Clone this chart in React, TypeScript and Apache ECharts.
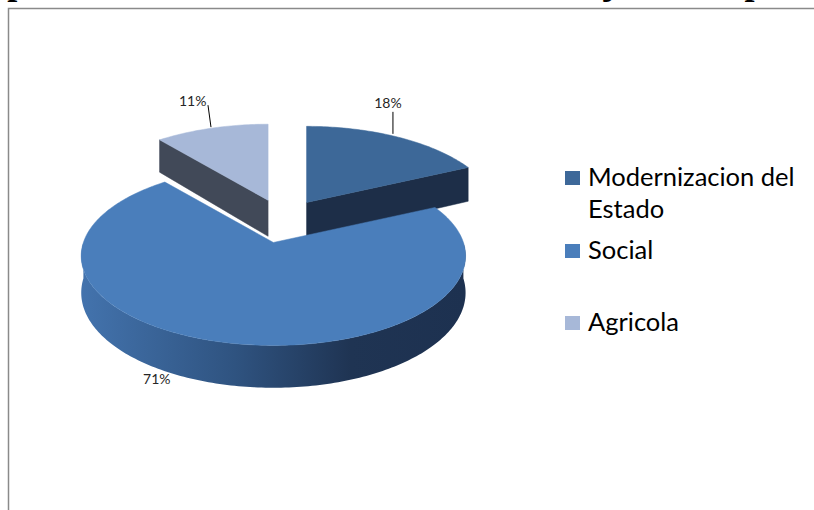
import React, { useEffect, useRef } from 'react';
import * as echarts from 'echarts';

// ---- data ----
const categories = ['Modernizacion del Estado', 'Social', 'Agricola'];
const legendLines = [['Modernizacion del', 'Estado'], ['Social'], ['Agricola']];
const values = [18, 71, 11];
const titleText = 'Tipos de Financiamiento Internacional Ejecutado por Sector';

// ---- styles / layout ----
const topColors = ['#3D6898', '#4A7EBB', '#A7B8D8'];
const cutColors = ['#1D2E48', '#2A4A75', '#414958'];
const legendColors = ['#3D6899', '#4A7EBB', '#A7B8D8'];
const CX = 283, CY = 221, RX = 190, RY = 87.5, P = 0.15, H = 36, EX = 44, EY = 22;
const drawRank = [0, 1, 0];
const labelLayout = [
  { lead: true, s: [-4, -3], e: [-4, -25], t: [-9, -34] },
  { lead: false, s: [0, 0], e: [0, 0], t: [-68, 35.5] },
  { lead: true, s: [-0.7, -1], e: [-3.7, -23], t: [-19, -28] },
];

const rad = (d: number) => (d * Math.PI) / 180;
const total = values.reduce((a, b) => a + b, 0);
const angles = (() => {
  let acc = 0;
  return values.map((v) => {
    const a0 = (acc / total) * 360;
    acc += v;
    return [a0, (acc / total) * 360];
  });
})();

function pt(cx: number, cy: number, deg: number, down: number): number[] {
  const t = rad(deg);
  const s = 1 / (1 + P * Math.cos(t));
  return [cx + RX * Math.sin(t) * s, cy - RY * Math.cos(t) * s + down * s];
}
function arc(cx: number, cy: number, a0: number, a1: number, down: number): number[][] {
  const n = Math.max(2, Math.ceil(Math.abs(a1 - a0)));
  const out: number[][] = [];
  for (let k = 0; k <= n; k++) out.push(pt(cx, cy, a0 + ((a1 - a0) * k) / n, down));
  return out;
}

function renderItem(params: any, api: any) {
  const i = params.dataIndex;
  const v = api.value(0);
  const [a0, a1] = angles[i];
  const m = (a0 + a1) / 2;
  const cx = CX + EX * Math.sin(rad(m));
  const cy = CY - EY * Math.cos(rad(m));
  const base = drawRank[i] * 10;
  const children: any[] = [];

  const radialFace = (a: number) => {
    const p1 = pt(cx, cy, a, 0);
    const p2 = pt(cx, cy, a, H);
    children.push({
      type: 'polygon',
      z2: base + 1,
      shape: { points: [[cx, cy], p1, p2, [cx, cy + H]] },
      style: { fill: cutColors[i], stroke: cutColors[i], lineWidth: 0.5 },
    });
  };
  if (Math.cos(rad(a0 - 90)) < 0) radialFace(a0);
  if (Math.cos(rad(a1 + 90)) < 0) radialFace(a1);

  const w0 = Math.max(a0, 90);
  const w1 = Math.min(a1, 270);
  if (w1 > w0) {
    const topArc = arc(cx, cy, w0, w1, 0);
    const botArc = arc(cx, cy, w0, w1, H).reverse();
    children.push({
      type: 'polygon',
      z2: base + 2,
      shape: { points: topArc.concat(botArc) },
      style: {
        fill: new echarts.graphic.LinearGradient(1, 0, 0, 0, [
          { offset: 0, color: '#1D3150' },
          { offset: 0.3, color: '#1F3453' },
          { offset: 0.6, color: '#2F5380' },
          { offset: 1, color: '#4373AD' },
        ]),
      },
    });
  }

  children.push({
    type: 'polygon',
    z2: base + 3,
    shape: { points: [[cx, cy]].concat(arc(cx, cy, a0, a1, 0)) },
    style: { fill: topColors[i], stroke: topColors[i], lineWidth: 0.5 },
  });

  const ap = pt(cx, cy, m, 0);
  const L = labelLayout[i];
  if (L.lead) {
    children.push({
      type: 'line',
      z2: 50,
      shape: { x1: ap[0] + L.s[0], y1: ap[1] + L.s[1], x2: ap[0] + L.e[0], y2: ap[1] + L.e[1] },
      style: { stroke: '#000', lineWidth: 1 },
    });
  }
  children.push({
    type: 'text',
    z2: 51,
    style: {
      text: Math.round((v / total) * 100) + '%',
      x: ap[0] + L.t[0],
      y: ap[1] + L.t[1],
      fill: '#262626',
      font: '14px Lato',
      align: 'center',
      verticalAlign: 'middle',
      textAlign: 'center',
      textVerticalAlign: 'middle',
    },
  });
  return { type: 'group', children };
}

export default function App() {
  const ref = useRef<HTMLDivElement>(null);
  useEffect(() => {
    if (!ref.current) return;
    const chart = echarts.init(ref.current, null, { renderer: 'svg' });
    const legendTop = [171, 244, 316];
    const legendGraphics: any[] = [];
    categories.forEach((c, i) => {
      legendGraphics.push({
        type: 'rect',
        shape: { x: 565, y: legendTop[i], width: 15, height: 14 },
        style: { fill: legendColors[i] },
      });
      legendLines[i].forEach((ln, k) => {
        legendGraphics.push({
          type: 'text',
          x: 588,
          y: legendTop[i] + 5 + k * 32,
          style: {
            text: ln,
            font: '25.5px Lato',
            fill: '#000',
            textAlign: 'left',
            textVerticalAlign: 'middle',
          },
        });
      });
    });
    chart.setOption({
      animation: false,
      backgroundColor: '#ffffff',
      graphic: [
        {
          type: 'rect',
          shape: { x: 8.5, y: 8.5, width: 1000, height: 1000 },
          style: { fill: 'none', stroke: '#8A8A8A', lineWidth: 1.5 },
        },
        {
          type: 'text',
          x: -26,
          y: -18,
          style: {
            text: titleText,
            font: 'bold 36px "Liberation Serif"',
            fill: '#000',
            textAlign: 'left',
            textVerticalAlign: 'middle',
          },
        },
        ...legendGraphics,
      ],
      series: [
        {
          type: 'custom',
          coordinateSystem: 'none',
          renderItem,
          data: values.map((v, i) => ({ value: v, name: categories[i] })),
        },
      ],
    });
    return () => chart.dispose();
  }, []);
  return <div ref={ref} style={{ position: 'absolute', left: 0, top: 0, width: 814, height: 510 }} />;
}
